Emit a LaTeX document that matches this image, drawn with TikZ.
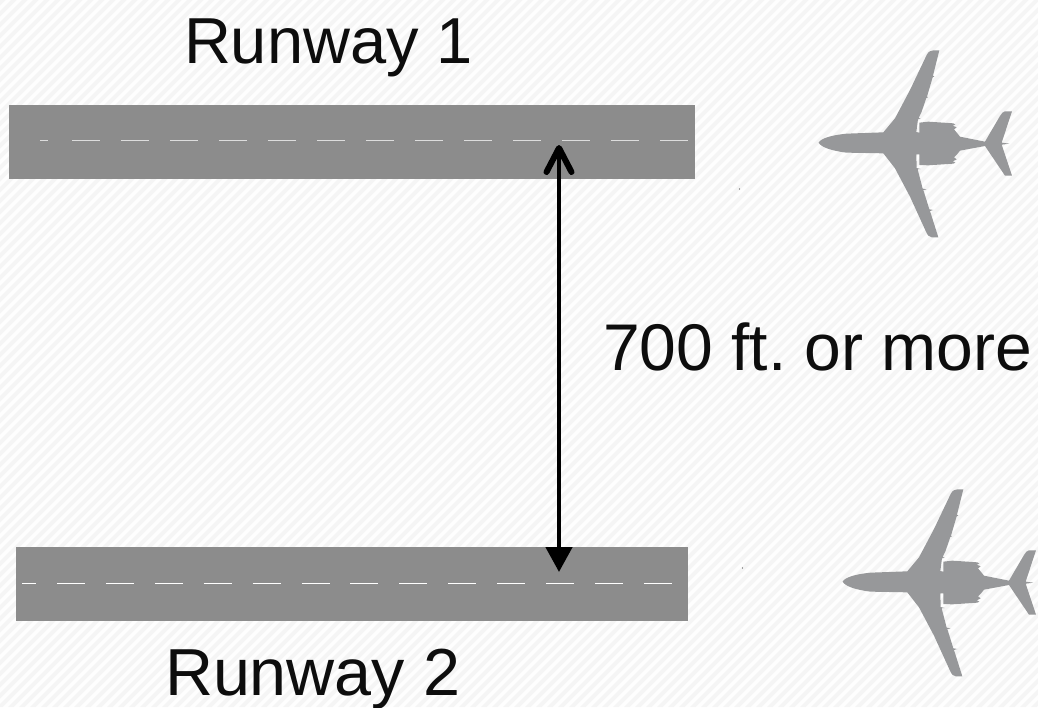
\documentclass[tikz,border=0pt]{standalone}
\usepackage{fontspec}
\setmainfont{Liberation Sans}
\usetikzlibrary{arrows.meta}
\frenchspacing
\definecolor{stripe}{HTML}{F5F5F5}
\definecolor{paper}{HTML}{FEFEFE}
\definecolor{strip}{HTML}{8C8C8C}
\definecolor{planegray}{HTML}{97989A}
\tikzset{
  runwaybox/.style={fill=strip,draw=none},
  centerlineA/.style={draw=white!70!strip,line width=1pt},
  centerlineB/.style={draw=white,line width=1pt},
  label/.style={anchor=base west,inner sep=0pt,outer sep=0pt,text=black!95},
  gapline/.style={draw=black,line width=4.6pt,-{Triangle[length=25pt,width=26pt,sep=0pt]}},
  gaphead/.style={draw=black,line width=6pt,line cap=round,line join=round},
  speck/.style={fill=black!70,draw=none}
}
\newcommand{\planeshape}{
  (56,308) .. controls (62,296) and (90,286) .. (140,281) -- (250,277) -- (285,235) -- (330,150) -- (380,45)
  .. controls (385,35) and (392,31) .. (400,31) -- (418,31) -- (399,107) -- (403,110) -- (398,112) -- (381,170) -- (384,172) -- (379,174) -- (365,215) -- (356,234) -- (362,236) -- (354,238) -- (349,276) -- (358,278) -- (358,248) -- (385,245) -- (460,250) -- (466,254) -- (458,257) -- (470,262) -- (462,268) -- (472,280) -- (480,290) -- (555,305)
  -- (600,228) .. controls (605,220) and (610,214) .. (615,214) -- (636,214) -- (605,308) -- (628,311) -- (605,314) -- (636,407) -- (615,407) -- (555,318) -- (480,332) -- (472,342) -- (462,352) -- (470,358) -- (458,364) -- (466,368) -- (460,371) -- (385,376) -- (358,375) -- (358,343) -- (349,343) -- (350,384) -- (362,387) -- (353,388) -- (368,446) -- (380,448) -- (370,450) -- (388,508) -- (400,510) -- (390,513) -- (415,592) -- (395,592) .. controls (388,592) and (382,585) .. (378,575) -- (330,470) -- (285,385) -- (250,340) -- (140,338) .. controls (90,332) and (62,320) .. (56,308) -- cycle}
\begin{document}
\begin{tikzpicture}[x=1pt,y=-1pt]
\useasboundingbox (0,0) rectangle (1038,707);
\fill[paper] (0,0) rectangle (1038,707);
\begin{scope}
\clip (0,0) rectangle (1038,707);
\foreach \k in {0,11,...,1760}{
  \fill[stripe] (\k,0) -- (\k+5.5,0) -- (\k+5.5-707,707) -- (\k-707,707) -- cycle;
}
\end{scope}
% runways
\node[runwaybox,minimum width=686pt,minimum height=74pt,inner sep=0pt,anchor=north west] (r1) at (9,105) {};
\node[runwaybox,minimum width=672pt,minimum height=74pt,inner sep=0pt,anchor=north west] (r2) at (16,547) {};
\draw[centerlineA] (40,140.5) -- (48,140.5);
\foreach \k in {0,...,12}{
  \draw[centerlineA] ({72+\k*49},140.5) -- ({100+\k*49},140.5);
}
\draw[centerlineB] (22,583) -- (36,583);
\foreach \k in {0,...,12}{
  \draw[centerlineB] ({57+\k*48.9},583) -- ({85+\k*48.9},583);
}
% planes
\begin{scope}[shift={(800,40)},x=0.3333pt,y=-0.3333pt]
  \fill[planegray] \planeshape;
\end{scope}
\begin{scope}[shift={(824,479)},x=0.3333pt,y=-0.3333pt]
  \fill[planegray] \planeshape;
\end{scope}
\fill[speck] (739.5,189) circle (0.6pt);
\fill[speck] (742.5,568) circle (0.6pt);
% separation arrow
\coordinate (gaptop) at (559,148);
\coordinate (gapbot) at (559,572);
\coordinate (barbl) at (546.5,172);
\coordinate (barbr) at (571.5,172);
\draw[gapline] (gaptop) -- (gapbot);
\draw[gaphead] (barbl) -- (gaptop) -- (barbr);
% labels
\node[label,font=\fontsize{65}{65}\selectfont] (t1) at (184,63) {Runway 1};
\node[label,font=\fontsize{66.5}{66.5}\selectfont] (t2) at (165,695) {Runway 2};
\node[label,font=\fontsize{66}{66}\selectfont] (t3) at (603,370) {700 ft. or more};
\end{tikzpicture}
\end{document}
